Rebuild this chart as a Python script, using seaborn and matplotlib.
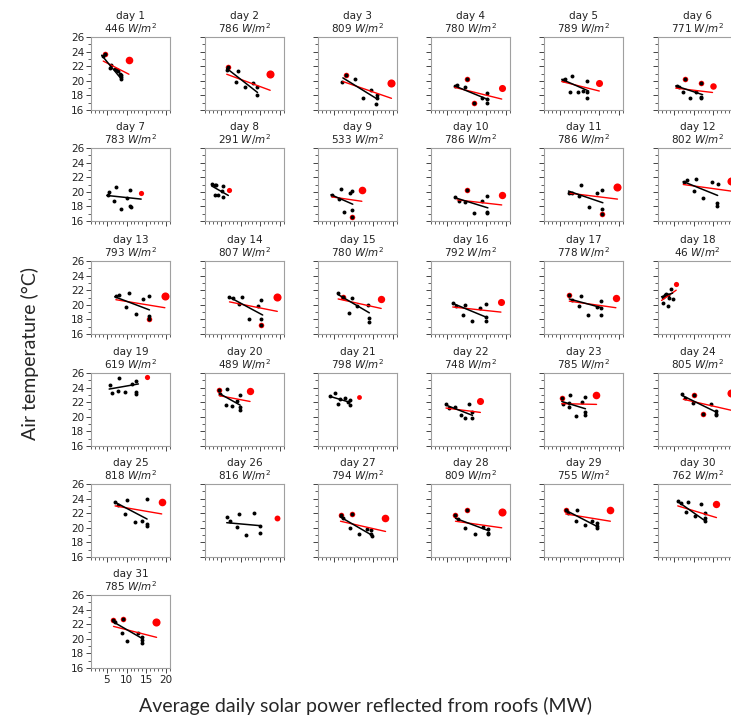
import matplotlib
matplotlib.use("Agg")
import matplotlib.pyplot as plt
import seaborn as sns
from matplotlib.ticker import MultipleLocator

# per-day irradiance shown in the titles (W/m2)
irradiance = [446, 786, 809, 780, 789, 771, 783, 291, 533, 786, 786, 802, 793, 807, 780,
              792, 778, 46, 619, 489, 798, 748, 785, 805, 818, 816, 794, 809, 755, 762, 785]

# building points (black)
black_x = [
    [4.0, 4.5, 5.7, 6.1, 7.1, 7.7, 7.9, 8.4, 8.6, 8.6, 8.6],
    [6.7, 6.5, 9.3, 8.8, 11.1, 13.1, 14.1, 14.1],
    [7.2, 8.0, 10.4, 12.3, 14.4, 15.9, 15.9, 15.7],
    [7.1, 7.7, 9.7, 10.1, 11.8, 13.9, 15.1, 15.1, 15.1],
    [5.7, 6.3, 8.0, 7.6, 9.5, 10.9, 12.0, 12.0, 12.0],
    [5.7, 6.2, 7.3, 7.8, 9.2, 10.7, 11.9, 12.0, 12.0],
    [5.2, 5.6, 7.3, 6.9, 8.6, 10.0, 10.9, 10.9, 11.0],
    [2.7, 3.5, 3.9, 5.6, 3.5, 4.4, 5.6, 5.2],
    [4.5, 6.7, 6.3, 9.1, 9.7, 7.7, 9.7, 9.7],
    [7.1, 8.0, 9.7, 10.1, 11.9, 14.0, 15.3, 15.3, 15.3],
    [7.4, 8.0, 9.9, 10.4, 12.4, 14.5, 15.6, 15.6, 15.6],
    [7.6, 8.3, 10.5, 10.0, 12.5, 14.6, 16.1, 15.9, 15.9],
    [7.3, 8.2, 10.5, 9.9, 12.4, 14.2, 15.8, 15.8, 15.8],
    [7.2, 8.0, 10.3, 9.6, 12.2, 14.3, 15.3, 15.3, 15.3],
    [6.1, 7.3, 9.6, 8.8, 10.9, 13.7, 13.9, 13.9],
    [6.5, 7.3, 9.5, 9.0, 11.5, 13.5, 15.0, 15.0, 15.0],
    [7.4, 8.0, 9.9, 10.4, 12.2, 14.3, 15.4, 15.4, 15.4],
    [2.35, 2.8, 3.0, 3.6, 3.8, 2.35, 3.6, 4.4, 4.7],
    [5.8, 6.4, 7.9, 8.2, 9.6, 11.3, 12.4, 12.4, 12.4],
    [4.6, 4.8, 6.5, 6.3, 7.8, 9.1, 9.9, 9.9, 9.9],
    [4.0, 5.2, 6.5, 7.8, 8.6, 6.0, 9.0, 9.0],
    [4.8, 5.5, 7.0, 8.5, 9.5, 10.5, 11.5, 11.5],
    [5.5, 5.9, 7.4, 7.7, 7.3, 9.0, 10.5, 11.5, 11.5, 11.5],
    [7.2, 7.9, 10.1, 9.8, 12.3, 14.3, 15.6, 15.6, 15.6],
    [7.1, 7.8, 10.0, 9.6, 12.1, 14.0, 15.2, 15.2, 15.2],
    [6.5, 7.3, 9.5, 9.0, 11.5, 13.4, 14.8, 14.8],
    [6.7, 7.4, 9.5, 9.0, 11.4, 13.3, 14.4, 14.4, 14.6],
    [7.2, 7.9, 10.0, 9.6, 12.1, 14.1, 15.4, 15.4, 15.4],
    [6.5, 7.2, 9.4, 9.0, 11.4, 13.2, 14.4, 14.4, 14.4],
    [6.0, 6.7, 8.5, 8.2, 10.3, 11.8, 12.8, 12.8, 12.8],
    [6.5, 9.2, 8.8, 10.0, 12.8, 14.0, 14.0, 14.0, 7.1],
]
black_y = [
    [23.4, 23.7, 21.7, 22.2, 21.6, 21.5, 21.3, 21.0, 20.8, 20.5, 20.2],
    [21.9, 21.5, 21.3, 19.8, 19.1, 19.7, 19.1, 18.1],
    [19.9, 20.8, 20.2, 17.6, 18.7, 18.1, 17.6, 16.8],
    [19.3, 19.4, 19.1, 20.2, 16.9, 17.6, 18.3, 17.5, 16.9],
    [20.1, 20.3, 20.7, 18.4, 18.4, 18.6, 20.0, 18.5, 17.6],
    [19.3, 19.1, 18.5, 20.3, 17.7, 18.4, 19.7, 17.8, 17.6],
    [19.5, 20.0, 20.6, 18.8, 17.6, 19.2, 20.3, 18.1, 17.9],
    [21.1, 20.9, 20.9, 20.8, 19.6, 19.5, 19.3, 20.1],
    [19.5, 20.4, 19.0, 19.8, 20.1, 17.3, 17.5, 16.6],
    [19.3, 18.7, 18.6, 20.2, 17.1, 18.7, 19.4, 17.3, 17.1],
    [19.9, 19.9, 19.4, 21.0, 17.9, 19.9, 20.3, 17.7, 16.9],
    [21.3, 21.6, 21.8, 20.1, 19.1, 21.3, 21.1, 18.4, 18.1],
    [21.2, 21.3, 21.6, 19.7, 18.8, 20.8, 21.2, 18.5, 18.1],
    [21.1, 21.0, 21.1, 20.1, 18.1, 19.8, 20.7, 18.1, 17.3],
    [21.6, 21.1, 20.9, 18.9, 19.8, 20.0, 18.2, 17.6],
    [20.2, 19.9, 20.0, 18.6, 17.8, 19.6, 20.1, 18.3, 17.8],
    [21.4, 20.7, 19.9, 21.2, 18.6, 19.7, 20.5, 19.6, 18.6],
    [21.1, 21.3, 21.5, 21.3, 20.9, 20.3, 19.9, 22.2, 20.8],
    [24.4, 23.3, 23.6, 25.3, 23.4, 24.5, 24.9, 23.4, 23.1],
    [23.7, 23.1, 23.8, 21.6, 21.5, 22.1, 23.0, 21.3, 20.9],
    [22.9, 23.2, 22.4, 22.6, 22.0, 21.8, 22.3, 21.6],
    [21.8, 21.2, 21.4, 20.2, 19.8, 21.8, 20.6, 19.9],
    [22.6, 21.7, 21.9, 23.0, 21.4, 20.1, 22.0, 22.7, 20.6, 20.3],
    [23.1, 22.6, 23.0, 21.9, 20.4, 21.8, 20.8, 20.4, 20.2],
    [23.5, 23.1, 23.8, 21.9, 20.8, 21.0, 23.9, 20.5, 20.2],
    [21.5, 21.0, 21.9, 20.1, 19.0, 22.0, 20.3, 19.3],
    [21.8, 21.3, 21.9, 20.0, 19.1, 19.8, 19.7, 19.1, 18.9],
    [21.8, 21.2, 22.4, 20.0, 19.1, 20.1, 19.9, 19.3, 19.2],
    [22.5, 22.0, 22.4, 20.9, 20.4, 20.9, 20.6, 20.2, 20.0],
    [23.7, 23.4, 23.5, 22.1, 21.6, 23.3, 22.0, 21.4, 21.0],
    [22.6, 22.7, 20.8, 19.7, 20.8, 20.2, 19.8, 19.4, 22.3],
]

# points circled in red
red_x = [[4.5], [6.7], [8.0], [10.1, 11.8], [], [7.8, 11.9], [], [], [9.7], [10.1], [15.6],
         [], [15.8], [15.3], [7.3], [], [7.4], [], [], [4.6], [], [], [5.5], [10.1, 12.3],
         [], [], [6.7, 9.5], [7.2, 10.0], [6.5], [], [6.5, 9.2]]
red_y = [[23.7], [21.9], [20.8], [20.2, 16.9], [], [20.3, 19.7], [], [], [16.6], [20.2], [16.9],
         [], [18.1], [17.3], [21.1], [], [21.4], [], [], [23.7], [], [], [22.6], [23.0, 20.4],
         [], [], [21.8, 21.9], [21.8, 22.4], [22.5], [], [22.6, 22.7]]

# large red marker (whole-roof value) and its size
big_x = [10.6, 17.5, 19.6, 18.9, 15.0, 14.8, 13.7, 7.2, 12.1, 18.9, 19.6, 19.5, 19.7, 19.3, 17.0,
         18.7, 19.2, 5.6, 15.3, 12.4, 11.3, 13.5, 14.2, 19.5, 18.9, 19.3, 18.0, 19.0, 17.8, 15.8, 17.4]
big_y = [22.8, 21.0, 19.7, 19.0, 19.7, 19.3, 19.9, 20.3, 20.2, 19.5, 20.6, 21.5, 21.2, 21.1, 20.8,
         20.4, 21.0, 22.9, 25.5, 23.5, 22.7, 22.2, 23.0, 23.2, 23.6, 21.4, 21.3, 22.2, 22.5, 23.3, 22.3]
big_s = [30, 34, 34, 26, 26, 22, 14, 14, 30, 28, 34, 34, 34, 34, 28,
         26, 28, 14, 14, 28, 12, 26, 30, 34, 30, 18, 30, 34, 30, 28, 34]

# fitted lines: (x0, y0, x1, y1)
black_line = [
    (3.7, 23.5, 8.6, 20.3), (6.5, 21.7, 14.3, 18.4), (7.3, 20.4, 16.0, 17.5), (7.0, 19.3, 15.6, 17.4),
    (5.5, 20.2, 12.3, 18.6), (5.5, 19.3, 12.3, 18.1), (5.0, 19.5, 13.7, 19.0), (2.7, 20.8, 6.9, 19.5),
    (4.3, 19.6, 9.8, 18.3), (7.0, 19.2, 15.4, 17.8), (7.2, 20.1, 15.9, 18.5), (7.4, 21.4, 16.1, 19.5),
    (7.0, 21.1, 15.8, 19.3), (7.0, 21.1, 15.6, 18.6), (6.1, 21.4, 14.0, 18.9), (6.5, 20.2, 15.0, 18.3),
    (7.4, 20.8, 15.6, 19.6), (1.9, 21.1, 4.7, 21.6), (5.6, 23.8, 13.0, 24.5), (4.6, 23.2, 9.9, 21.6),
    (4.0, 22.8, 9.0, 22.0), (4.8, 21.6, 11.5, 20.2), (5.5, 22.1, 11.5, 21.1), (7.2, 22.9, 15.9, 20.6),
    (7.1, 23.5, 15.2, 21.2), (6.5, 20.7, 14.8, 20.3), (6.6, 21.5, 14.6, 19.0), (7.2, 21.3, 15.6, 19.6),
    (6.5, 22.4, 14.4, 20.2), (6.0, 23.6, 12.8, 21.0), (6.7, 22.3, 14.1, 20.0),
]
red_line = [
    (4.1, 22.7, 10.6, 20.9), (6.5, 20.9, 17.5, 18.7), (7.3, 19.9, 19.6, 17.6), (7.0, 19.1, 18.9, 17.5),
    (5.5, 19.9, 15.0, 18.6), (5.5, 19.0, 14.8, 18.4), None, None,
    (4.5, 19.3, 12.1, 18.7), (7.6, 18.9, 18.9, 18.2), (7.6, 19.8, 19.6, 19.0), (7.4, 21.0, 19.5, 20.1),
    (7.3, 20.7, 19.7, 19.6), (7.2, 20.4, 19.3, 19.1), (6.1, 20.8, 17.0, 19.5), (6.5, 19.7, 18.7, 19.0),
    (7.4, 20.5, 19.2, 19.6), (1.9, 20.6, 5.6, 22.0), None, (4.6, 22.9, 12.4, 22.1),
    None, (4.8, 21.2, 13.5, 20.6), (5.5, 21.8, 14.3, 21.7), (7.4, 22.4, 19.5, 20.9),
    (7.1, 23.0, 18.9, 21.9), None, (6.7, 20.9, 18.1, 19.5), (7.2, 20.9, 18.9, 20.0),
    (6.5, 21.9, 17.8, 20.9), (6.0, 23.0, 15.8, 21.4), (6.7, 21.7, 17.6, 20.2),
]

# panel grid in figure pixels (figure is 731 x 722, right column is cut off)
col_left = [91, 205, 318, 431, 544, 658]
row_top = [37, 148, 261, 373, 484, 595]
pw, ph = 79, 73
W, H = 731, 722

sns.set_style("ticks")
plt.rcParams['font.family'] = ['DejaVu Sans']
fig = plt.figure(figsize=(W / 100, H / 100), dpi=100)

for i in range(31):
    r, c = divmod(i, 6)
    ax = fig.add_axes([col_left[c] / W, 1 - (row_top[r] + ph) / H, pw / W, ph / H])

    if red_line[i] is not None:
        x0, y0, x1, y1 = red_line[i]
        sns.lineplot(x=[x0, x1], y=[y0, y1], ax=ax, color='red', linewidth=1, estimator=None)
    x0, y0, x1, y1 = black_line[i]
    sns.lineplot(x=[x0, x1], y=[y0, y1], ax=ax, color='black', linewidth=1.1, estimator=None)
    if red_x[i]:
        sns.scatterplot(x=red_x[i], y=red_y[i], ax=ax, color='red', s=16, linewidth=0)
    sns.scatterplot(x=black_x[i], y=black_y[i], ax=ax, color='black', s=8, linewidth=0)
    sns.scatterplot(x=[big_x[i]], y=[big_y[i]], ax=ax, color='red', s=big_s[i], linewidth=0)

    ax.set_xlim(1, 21)
    ax.set_ylim(16, 26)
    ax.xaxis.set_major_locator(MultipleLocator(5))
    ax.xaxis.set_minor_locator(MultipleLocator(1))
    ax.yaxis.set_major_locator(MultipleLocator(2))
    ax.yaxis.set_minor_locator(MultipleLocator(1))
    ax.tick_params(which='major', length=3.5, width=0.7, color='#444444',
                   labelsize=7.5, pad=1.5, labelcolor='#222222')
    ax.tick_params(which='minor', length=2, width=0.6, color='#444444')
    for sp in ax.spines.values():
        sp.set_visible(True)
        sp.set_color('#a0a0a0')
        sp.set_linewidth(0.8)
    if c != 0:
        ax.tick_params(labelleft=False)
    if i != 30:
        ax.tick_params(labelbottom=False)
    ax.set_xlabel('')
    ax.set_ylabel('')
    ax.set_title(f'day {i + 1}\n{irradiance[i]} $W/m^2$', fontsize=7.5, pad=3,
                 color='#222222', linespacing=1.0)

fig.text(0.5, 0.022, 'Average daily solar power reflected from roofs (MW)',
         ha='center', va='center', fontsize=14, family=['Lato', 'DejaVu Sans'])
fig.text(0.041, 0.51, 'Air temperature (°C)', ha='center', va='center',
         rotation=90, fontsize=14, family=['Lato', 'DejaVu Sans'])

fig.savefig('out.png', dpi=100)
